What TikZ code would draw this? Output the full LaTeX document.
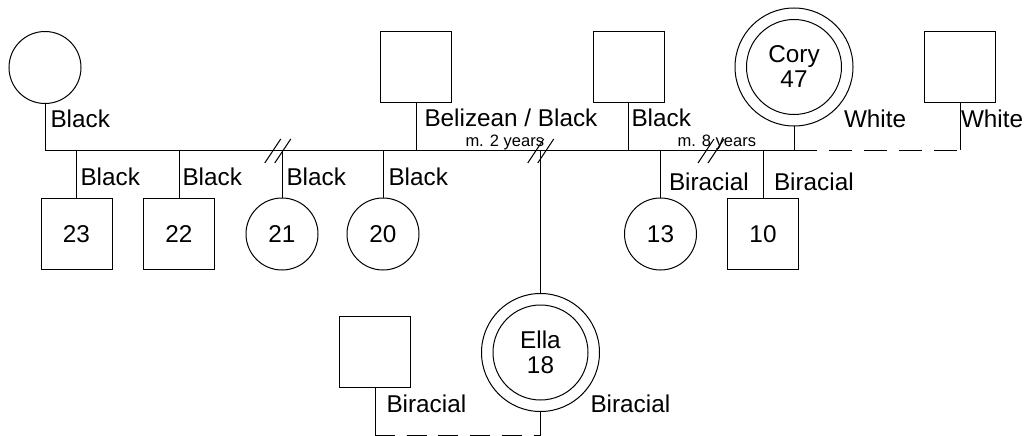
\documentclass[tikz,border=0pt]{standalone}
\usepackage{fontspec}
\setmainfont{Liberation Sans}
\begin{document}
\begin{tikzpicture}[x=1pt,y=-1pt,
  every node/.style={outer sep=0pt, inner sep=0pt},
  pline/.style={draw=black, line width=1pt},
  big/.style={font=\fontsize{24.3}{25}\selectfont},
  male/.style={pline, big, rectangle, minimum width=71pt, minimum height=71pt},
  female/.style={pline, big, circle, minimum size=72pt},
  ring/.style={pline, circle, minimum size=118pt},
  core/.style={pline, big, circle, minimum size=95pt, align=center},
  lbl/.style={big, anchor=base west},
  small/.style={font=\fontsize{16.5}{18}\selectfont, anchor=base west},
  brk/.pic={\draw[line width=1pt] (-13,12) -- (3,-12) (-3,12) -- (13,-12);},
]
\useasboundingbox (0,0) rectangle (1029,436);

% parents' generation
\node[female] (mom) at (45,67.5) {};
\node[male] (f1) at (416,67.5) {};
\node[male] (f2) at (628.5,67.5) {};
\node[ring] (coryring) at (794,67) {};
\node[core] (cory) at (794,67) {Cory\\47};
\node[male] (w) at (960,67.5) {};

% children
\node[male] (c23) at (76.5,234) {23};
\node[male] (c22) at (179,234) {22};
\node[female] (c21) at (282,234) {21};
\node[female] (c20) at (383,234) {20};
\node[female] (c13) at (660.5,234) {13};
\node[male] (c10) at (763,234) {10};

% Ella and partner
\node[ring] (ellaring) at (540.5,352.5) {};
\node[core] (ella) at (540.5,352.5) {Ella\\18};
\node[male] (sp) at (375,351.5) {};

% marriage / sibship bar
\coordinate (bar) at (0,150);
\coordinate (bot) at (0,435);
\draw[pline] (mom.south) -- (mom.south |- bar) -- (coryring.south |- bar) -- (coryring.south);
\draw[pline] (f1.south) -- (f1.south |- bar);
\draw[pline] (f2.south) -- (f2.south |- bar);
\draw[pline, dash pattern=on 23pt off 12pt] (coryring.south |- bar) -- (w.south |- bar);
\draw[pline] (w.south |- bar) -- (w.south);

\foreach \k in {c23,c22,c21,c20,c13,c10}
  \draw[pline] (\k.north |- bar) -- (\k.north);
\draw[pline] (ellaring.north |- bar) -- (ellaring.north);

% Ella's partnership
\draw[pline] (ellaring.south) -- (ellaring.south |- bot);
\draw[pline] (sp.south) -- (sp.south |- bot);
\draw[pline, dash pattern=on 20pt off 11.7pt] (sp.south |- bot) -- (ellaring.south |- bot);

% divorce marks
\pic at (277.75,151) {brk};
\pic at (540.75,151) {brk};
\pic at (711,151) {brk};

% labels
\node[lbl] (lmom) at (50.5,127.3) {Black};
\node[lbl] (lf1) at (424.5,127) {Belizean / Black};
\node[lbl] (lf2) at (631.5,127) {Black};
\node[lbl] (lcory) at (844,128) {White};
\node[lbl] (lw) at (961,128) {White};
\node[small] (m2) at (465.5,146.5) {m. 2 years};
\node[small] (m8) at (677.5,146.5) {m. 8 years};
\node[lbl] (l23) at (80.5,185) {Black};
\node[lbl] (l22) at (182.5,185) {Black};
\node[lbl] (l21) at (286.5,185) {Black};
\node[lbl] (l20) at (388.5,185) {Black};
\node[lbl] (l13) at (669,190) {Biracial};
\node[lbl] (l10) at (774,190) {Biracial};
\node[lbl] (lsp) at (386.5,412) {Biracial};
\node[lbl] (lella) at (590.5,412) {Biracial};
\end{tikzpicture}
\end{document}
